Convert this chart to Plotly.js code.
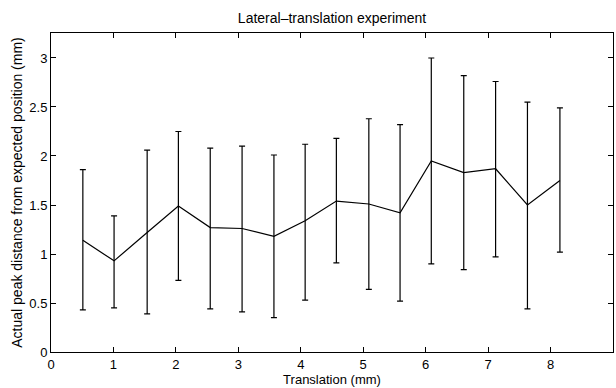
<!DOCTYPE html>
<html>
<head>
<meta charset="utf-8">
<script src="https://cdn.plot.ly/plotly-3.0.1.min.js"></script>
<style>html,body{margin:0;padding:0;background:#fff;}#chart{width:616px;height:388px;}</style>
</head>
<body>
<div id="chart"></div>
<script>
const translation = [0.51, 1.01, 1.54, 2.04, 2.55, 3.06, 3.57, 4.07, 4.57, 5.09, 5.59, 6.09, 6.61, 7.12, 7.63, 8.15];
const meanDistance = [1.14, 0.93, 1.22, 1.49, 1.27, 1.26, 1.18, 1.34, 1.54, 1.51, 1.42, 1.95, 1.83, 1.87, 1.50, 1.75];
const upperBound   = [1.86, 1.39, 2.06, 2.25, 2.08, 2.10, 2.01, 2.12, 2.18, 2.38, 2.32, 3.00, 2.82, 2.76, 2.55, 2.49];
const lowerBound   = [0.43, 0.45, 0.39, 0.73, 0.44, 0.41, 0.35, 0.53, 0.91, 0.64, 0.52, 0.90, 0.84, 0.97, 0.44, 1.02];
const xTicks = [0, 1, 2, 3, 4, 5, 6, 7, 8, 9];
const yTicks = [0, 0.5, 1, 1.5, 2, 2.5, 3];
const yTickLabels = ['0', '0.5', '1', '1.5', '2', '2.5', '3'];

const errPlus = upperBound.map((u, i) => u - meanDistance[i]);
const errMinus = lowerBound.map((l, i) => meanDistance[i] - l);

const trace = {
  x: translation,
  y: meanDistance,
  type: 'scatter',
  mode: 'lines',
  line: {color: '#000', width: 1.2},
  error_y: {type: 'data', symmetric: false, array: errPlus, arrayminus: errMinus,
            color: '#000', thickness: 1.2, width: 3},
  hoverinfo: 'skip'
};

const font = {family: 'Liberation Sans, Arial, Helvetica, sans-serif', color: '#000'};
const layout = {
  width: 616, height: 388,
  margin: {l: 51, r: 3, t: 33, b: 36},
  paper_bgcolor: '#fff', plot_bgcolor: '#fff',
  showlegend: false,
  font: Object.assign({size: 13}, font),
  title: {text: 'Lateral\u2013translation experiment', font: Object.assign({size: 14}, font),
          x: 0.539, xanchor: 'center', y: 1 - 18 / 388, yanchor: 'middle'},
  xaxis: {
    range: [0, 9], tickvals: xTicks, ticktext: xTicks.map(String),
    ticks: 'inside', ticklen: 5, tickcolor: '#000', tickwidth: 1,
    showline: true, linecolor: '#000', linewidth: 1, mirror: 'allticks',
    showgrid: false, zeroline: false,
    tickfont: Object.assign({size: 13}, font),
    title: {text: 'Translation (mm)', font: Object.assign({size: 13}, font), standoff: 0}
  },
  yaxis: {
    range: [0, 3.255], tickvals: yTicks, ticktext: yTickLabels,
    ticks: 'inside', ticklen: 5, tickcolor: '#000', tickwidth: 1,
    showline: true, linecolor: '#000', linewidth: 1, mirror: 'allticks',
    showgrid: false, zeroline: false,
    tickfont: Object.assign({size: 13}, font),
    title: {text: 'Actual peak distance from expected position (mm)', font: Object.assign({size: 14}, font), standoff: 3}
  }
};

Plotly.newPlot('chart', [trace], layout, {staticPlot: true, displayModeBar: false});
</script>
</body>
</html>
